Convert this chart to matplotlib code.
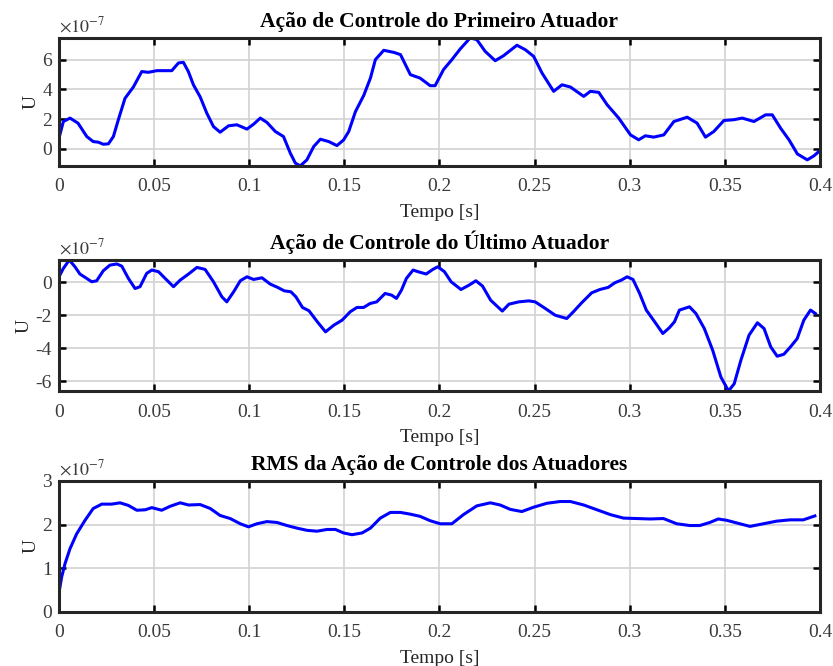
import matplotlib.pyplot as plt

plt.rcParams['font.family'] = ['Liberation Serif', 'DejaVu Serif']
plt.rcParams['mathtext.fontset'] = 'stix'
plt.rcParams['axes.unicode_minus'] = False

# Data (U in units of 1e-7)
t1 = [0, 0.0023, 0.0058, 0.010, 0.0146, 0.018, 0.0207, 0.0233, 0.026, 0.0286,
      0.0312, 0.0347, 0.0391, 0.0435, 0.047, 0.0514, 0.0593, 0.0628, 0.0654, 0.068,
      0.0707, 0.0742, 0.0777, 0.0812, 0.0847, 0.0891, 0.0935, 0.0988, 0.1023, 0.1058,
      0.1093, 0.1137, 0.118, 0.1216, 0.1242, 0.1268, 0.1303, 0.1339, 0.1374, 0.1418,
      0.1461, 0.1496, 0.1523, 0.1558, 0.1602, 0.1637, 0.1663, 0.1707, 0.176, 0.1795,
      0.1847, 0.1898, 0.1951, 0.1977, 0.2021, 0.2065, 0.2109, 0.2161, 0.2196, 0.224,
      0.2293, 0.2337, 0.2407, 0.2451, 0.2495, 0.2539, 0.26, 0.2644, 0.2688, 0.2758,
      0.2793, 0.2837, 0.2881, 0.2942, 0.3004, 0.3047, 0.3082, 0.3126, 0.3179, 0.3232,
      0.3302, 0.3354, 0.3398, 0.3442, 0.3495, 0.3547, 0.3591, 0.3653, 0.3714, 0.3749,
      0.3793, 0.3837, 0.3881, 0.3933, 0.3968, 0.4]
u1 = [0.72, 1.84, 2.07, 1.73, 0.83, 0.49, 0.45, 0.31, 0.34, 0.83,
      1.96, 3.4, 4.16, 5.2, 5.15, 5.26, 5.26, 5.78, 5.82, 5.2,
      4.3, 3.5, 2.4, 1.5, 1.12, 1.55, 1.62, 1.33, 1.66, 2.07,
      1.78, 1.17, 0.83, -0.29, -0.95, -1.15, -0.74, 0.16, 0.65, 0.49,
      0.22, 0.6, 1.17, 2.5, 3.6, 4.76, 6.0, 6.63, 6.49, 6.34,
      4.99, 4.76, 4.25, 4.25, 5.33, 6.0, 6.72, 7.46, 7.35, 6.56,
      5.93, 6.27, 6.97, 6.67, 6.22, 5.1, 3.87, 4.31, 4.16, 3.53,
      3.87, 3.8, 2.97, 2.07, 0.94, 0.61, 0.88, 0.79, 0.94, 1.84,
      2.13, 1.73, 0.79, 1.17, 1.91, 1.96, 2.07, 1.84, 2.29, 2.29,
      1.39, 0.61, -0.34, -0.74, -0.47, -0.11]

t2 = [0, 0.0023, 0.0054, 0.0084, 0.011, 0.0146, 0.0172, 0.0198, 0.0233, 0.0268,
      0.0304, 0.033, 0.0365, 0.04, 0.0426, 0.0461, 0.0488, 0.0523, 0.0567, 0.0602,
      0.0637, 0.0681, 0.0725, 0.0768, 0.0812, 0.0856, 0.0882, 0.0918, 0.0953, 0.0988,
      0.1023, 0.1067, 0.111, 0.1149, 0.1184, 0.1219, 0.1245, 0.128, 0.1314, 0.1358,
      0.1401, 0.1444, 0.1488, 0.1531, 0.1566, 0.1601, 0.1635, 0.167, 0.1714, 0.1748,
      0.1774, 0.18, 0.1826, 0.1861, 0.1887, 0.193, 0.1965, 0.1991, 0.2026, 0.2061,
      0.2113, 0.2156, 0.2191, 0.2226, 0.2269, 0.233, 0.2365, 0.2417, 0.2469, 0.2503,
      0.2556, 0.2608, 0.2669, 0.2704, 0.2747, 0.28, 0.2843, 0.2887, 0.2922, 0.2956,
      0.2986, 0.3017, 0.3052, 0.3087, 0.3131, 0.3174, 0.3209, 0.3235, 0.3261, 0.3314,
      0.3348, 0.3392, 0.3436, 0.3479, 0.3519, 0.3549, 0.3584, 0.3627, 0.3671, 0.3706,
      0.3741, 0.3775, 0.381, 0.3845, 0.388, 0.3915, 0.395, 0.3976]
u2 = [0.34, 0.85, 1.36, 0.95, 0.51, 0.24, 0.04, 0.1, 0.71, 1.05,
      1.12, 0.99, 0.24, -0.37, -0.26, 0.55, 0.75, 0.65, 0.14, -0.26,
      0.14, 0.51, 0.91, 0.79, 0.04, -0.87, -1.18, -0.57, 0.1, 0.34,
      0.18, 0.28, -0.1, -0.3, -0.51, -0.57, -0.87, -1.52, -1.72, -2.39,
      -3.0, -2.6, -2.29, -1.78, -1.52, -1.52, -1.28, -1.18, -0.67, -0.77,
      -0.97, -0.47, 0.24, 0.75, 0.65, 0.51, 0.79, 0.95, 0.65, 0.04,
      -0.43, -0.16, 0.1, -0.22, -1.08, -1.74, -1.32, -1.18, -1.12, -1.18,
      -1.58, -1.99, -2.19, -1.78, -1.24, -0.63, -0.43, -0.3, -0.02, 0.14,
      0.34, 0.18, -0.67, -1.68, -2.39, -3.1, -2.74, -2.39, -1.68, -1.48,
      -1.89, -2.8, -4.12, -5.74, -6.59, -6.15, -4.73, -3.2, -2.45, -2.8,
      -3.91, -4.48, -4.36, -3.91, -3.41, -2.29, -1.68, -1.89]

t3 = [0, 0.0014, 0.0032, 0.0058, 0.0093, 0.0137, 0.018, 0.0225, 0.0277, 0.0321,
      0.0365, 0.0409, 0.0453, 0.0488, 0.054, 0.0584, 0.0637, 0.0681, 0.0742, 0.0795,
      0.0847, 0.09, 0.0953, 0.0996, 0.104, 0.1093, 0.1146, 0.1198, 0.1251, 0.1304,
      0.1356, 0.1409, 0.1453, 0.1496, 0.154, 0.1593, 0.1637, 0.1689, 0.1742, 0.1795,
      0.1847, 0.1898, 0.1951, 0.2004, 0.2065, 0.2126, 0.2196, 0.2267, 0.2319, 0.2372,
      0.2433, 0.2495, 0.2565, 0.2635, 0.2688, 0.2758, 0.2828, 0.2898, 0.2967, 0.3037,
      0.3107, 0.3177, 0.3247, 0.3316, 0.3368, 0.3421, 0.3465, 0.3509, 0.3579, 0.3632,
      0.3702, 0.3772, 0.3842, 0.3912, 0.3973]
u3 = [0.44, 0.8, 1.11, 1.45, 1.79, 2.1, 2.37, 2.47, 2.47, 2.5,
      2.44, 2.33, 2.34, 2.39, 2.33, 2.42, 2.5, 2.45, 2.46, 2.37,
      2.21, 2.14, 2.02, 1.95, 2.02, 2.07, 2.05, 1.98, 1.92, 1.87,
      1.85, 1.89, 1.89, 1.81, 1.77, 1.81, 1.92, 2.15, 2.28, 2.28,
      2.24, 2.19, 2.09, 2.02, 2.02, 2.23, 2.43, 2.5, 2.45, 2.35,
      2.3, 2.4, 2.49, 2.53, 2.53, 2.45, 2.34, 2.23, 2.15, 2.14,
      2.13, 2.14, 2.02, 1.98, 1.98, 2.05, 2.13, 2.1, 2.02, 1.96,
      2.02, 2.08, 2.11, 2.11, 2.2]

titles = ['Ação de Controle do Primeiro Atuador',
          'Ação de Controle do Último Atuador',
          'RMS da Ação de Controle dos Atuadores']
ylims = [(-1.15, 7.46), (-6.59, 1.36), (0, 3)]
yticks = [[0, 2, 4, 6], [-6, -4, -2, 0], [0, 1, 2, 3]]
xticks = [0, 0.05, 0.1, 0.15, 0.2, 0.25, 0.3, 0.35, 0.4]
xticklabels = ['0', '0.05', '0.1', '0.15', '0.2', '0.25', '0.3', '0.35', '0.4']

series = [(t1, u1), (t2, u2), (t3, u3)]
rects = [(0.0708, 0.7508, 0.9136, 0.1922),
         (0.0708, 0.4129, 0.9136, 0.1967),
         (0.0708, 0.0811, 0.9136, 0.1967)]

fig = plt.figure(figsize=(8.33, 6.66), dpi=100)

for i in range(3):
    ax = fig.add_axes(rects[i])
    t, u = series[i]
    ax.plot(t, u, color='blue', linewidth=2.2, solid_joinstyle='round')
    ax.set_xlim(0, 0.4)
    ax.set_ylim(*ylims[i])
    ax.set_xticks(xticks)
    ax.set_xticklabels(xticklabels)
    ax.set_yticks(yticks[i])
    ax.grid(True, color='#d2d2d2', linewidth=1.2)
    ax.set_axisbelow(True)
    ax.tick_params(axis='x', pad=9)
    ax.tick_params(axis='y', pad=5)
    ax.tick_params(direction='in', top=True, right=True, length=5, width=1.8,
                   labelsize=14, labelcolor='#3a3a3a')
    for s in ax.spines.values():
        s.set_linewidth(2.2)
        s.set_color('#262626')
    ax.set_title(titles[i], fontsize=15.5, fontweight='bold', pad=8)
    ax.set_xlabel('Tempo [s]', fontsize=14, color='#262626', labelpad=6)
    ax.set_ylabel('U', fontsize=14, color='#262626', labelpad=2)
    ax.text(0.0, 1.015, r'$\times10^{-7}$', transform=ax.transAxes,
            ha='left', va='bottom', fontsize=13, color='#3a3a3a')

plt.savefig('out.png', dpi=100)
